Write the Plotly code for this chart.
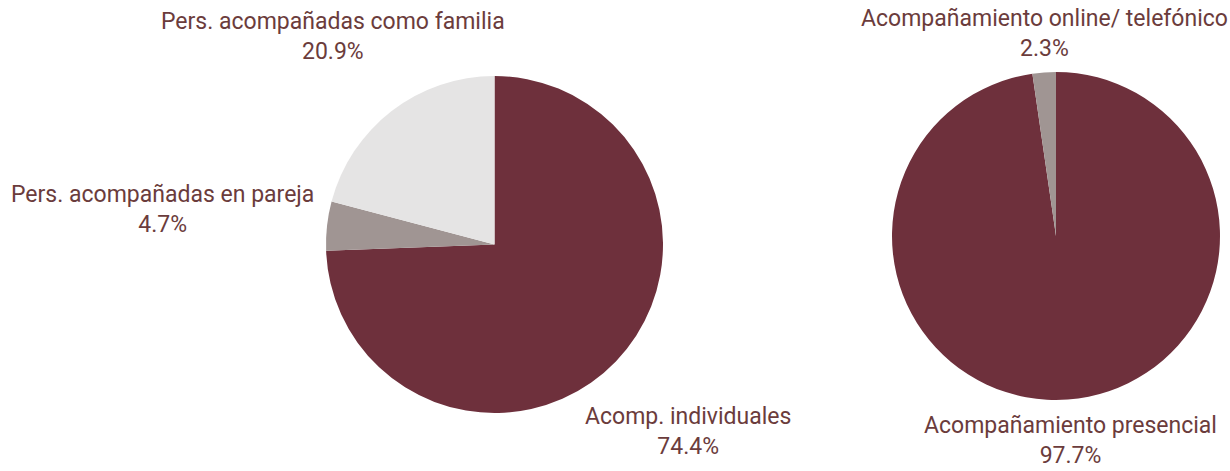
import plotly.graph_objects as go

W, H = 1230, 471

# left pie: type of people accompanied
tipo_labels = ['Acomp. individuales', 'Pers. acompañadas en pareja', 'Pers. acompañadas como familia']
tipo_values = [74.4, 4.7, 20.9]

# right pie: channel of accompaniment
canal_labels = ['Acompañamiento presencial', 'Acompañamiento online/ telefónico']
canal_values = [97.7, 2.3]

DARK = '#6e303c'
GREY = '#a09593'
LIGHT = '#e5e4e4'
TXT = '#6b3c3c'
FONT = 'Roboto'


def px_domain(x0, x1, y0, y1):
    # pixel box -> paper domain
    return dict(x=[x0 / W, x1 / W], y=[1 - y1 / H, 1 - y0 / H])


fig = go.Figure()

fig.add_trace(go.Pie(
    labels=tipo_labels, values=tipo_values,
    sort=False, direction='clockwise', rotation=0,
    marker=dict(colors=[DARK, GREY, LIGHT], line=dict(width=0)),
    textinfo='none', hoverinfo='label+percent',
    domain=px_domain(326, 663, 76, 413),
    showlegend=False,
))

fig.add_trace(go.Pie(
    labels=canal_labels, values=canal_values,
    sort=False, direction='clockwise', rotation=0,
    marker=dict(colors=[DARK, GREY], line=dict(width=0)),
    textinfo='none', hoverinfo='label+percent',
    domain=px_domain(892, 1220, 72, 400),
    showlegend=False,
))

# label anchor points in pixels (centre of the two-line block)
label_pos = {
    'Acomp. individuales': (688, 431),
    'Pers. acompañadas en pareja': (163, 209),
    'Pers. acompañadas como familia': (333, 37),
    'Acompañamiento presencial': (1070, 440),
    'Acompañamiento online/ telefónico': (1044, 34),
}

for labels, values in [(tipo_labels, tipo_values), (canal_labels, canal_values)]:
    for lab, val in zip(labels, values):
        x, y = label_pos[lab]
        fig.add_annotation(
            x=x / W, y=1 - y / H, xref='paper', yref='paper',
            text=f'{lab}<br>{val:.1f}%', showarrow=False,
            xanchor='center', yanchor='middle', align='center',
            font=dict(family=FONT, size=23, color=TXT),
        )

fig.update_layout(
    width=W, height=H,
    margin=dict(l=0, r=0, t=0, b=0),
    paper_bgcolor='white', plot_bgcolor='white',
)

fig.write_html('out.html', config={'displayModeBar': False},
               post_script="document.body.style.margin='0';")
